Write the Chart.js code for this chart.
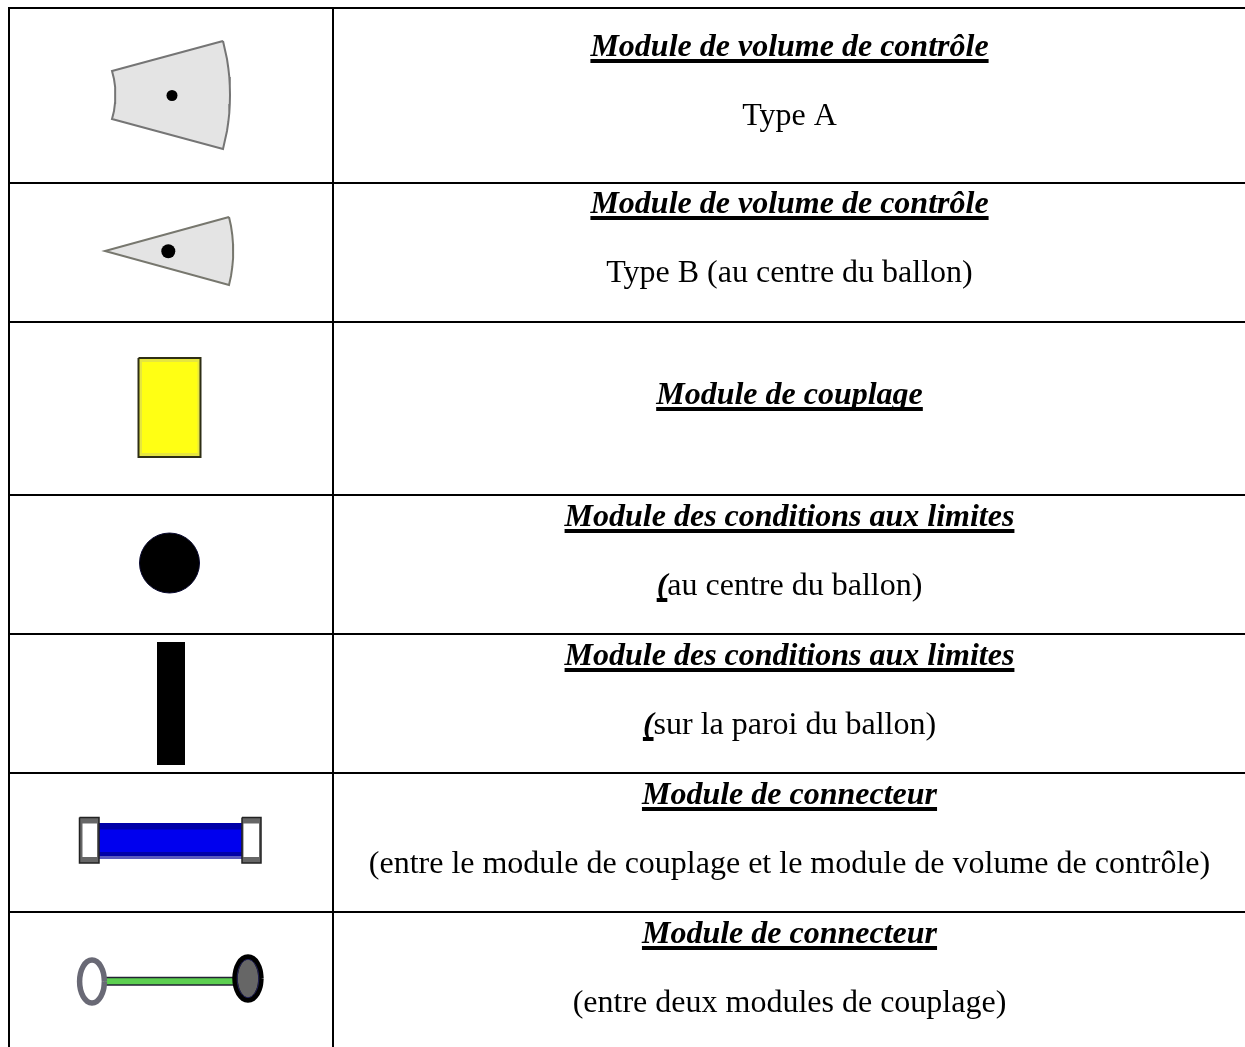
<!DOCTYPE html>
<html lang="fr"><head><meta charset="utf-8">
<style>html,body{margin:0;padding:0;background:#fff}canvas{display:block}</style>
<script src="https://cdn.jsdelivr.net/npm/chart.js@4"></script>
</head><body><canvas id="c" width="1245" height="1047"></canvas>
<script>
// Table text
const headings = ["Module de volume de contrôle","Module de volume de contrôle","Module de couplage","Module des conditions aux limites","Module des conditions aux limites","Module de connecteur","Module de connecteur"];
const headingBaselines = [56,213,404,526,665,804,943];
const bodyLeads = ["","","","(","(","",""];
const bodyTexts = ["Type A","Type B (au centre du ballon)","","au centre du ballon)","sur la paroi du ballon)","(entre le module de couplage et le module de volume de contrôle)","(entre deux modules de couplage)"];
const bodyBaselines = [125,282,0,595,734,873,1012];
const textCenter = 789.5;
// Table rules
const ruleRows = [8,183,322,495,634,773,912];
const ruleColumns = [9,333];
// Symbols
const wedgeA = [[223,41],[225,50],[227,59],[228.3,68],[229.3,77],[229.8,86],[230,95],[229.8,104],[229.3,113],[228.3,122],[227,131],[225,140],[223,149],[112,119],[114,111],[115,103],[115.3,95],[115,87],[114,79],[112,71],[223,41]];
const wedgeB = [[229,217],[231,226],[232.3,235],[233,244],[233.2,251],[233,258],[232.3,267],[231,276],[229,285],[105,251],[229,217]];
const wedgeADot = [[172,95.5]];
const wedgeBDot = [[168.3,251.3]];
const yellowOuter = [[138.5,358],[200.5,358],[200.5,457],[138.5,457],[138.5,358]];
const yellowInner = [[142,362],[197.5,362],[197.5,453],[142,453],[142,362]];
const limitDisc = [[169.5,563]];
const limitBar = [[157,642],[185,642],[185,765],[157,765],[157,642]];
const blueOuter = [[97,823],[243,823],[243,856],[97,856],[97,823]];
const blueInner = [[98,829.5],[241.5,829.5],[241.5,852],[98,852],[98,829.5]];
const blueLip = [[97,856],[243,856],[243,859],[97,859],[97,856]];
const capLeft = [[79.5,817.5],[99,817.5],[99,863],[79.5,863],[79.5,817.5]];
const capLeftHole = [[82.5,823.5],[97,823.5],[97,857],[82.5,857],[82.5,823.5]];
const capRight = [[242,817.5],[261,817.5],[261,863],[242,863],[242,817.5]];
const capRightHole = [[243.5,823.5],[259,823.5],[259,857],[243.5,857],[243.5,823.5]];
const greenRod = [[104,977.5],[238,977.5],[238,985],[104,985],[104,977.5]];
const ringLeft = [[104.4,981.5],[103.5,989.7],[100.8,996.7],[96.7,1001.4],[92,1003],[87.3,1001.4],[83.2,996.7],[80.5,989.7],[79.6,981.5],[80.5,973.3],[83.2,966.3],[87.3,961.6],[92,960],[96.7,961.6],[100.8,966.3],[103.5,973.3],[104.4,981.5]];
const ringRight = [[261,978.5],[260,986.7],[257.2,993.7],[253,998.4],[248,1000],[243,998.4],[238.8,993.7],[236,986.7],[235,978.5],[236,970.3],[238.8,963.3],[243,958.6],[248,957],[253,958.6],[257.2,963.3],[260,970.3],[261,978.5]];
const ringRightEdge = [[258.8,978.5],[258,985.8],[255.6,991.9],[252.1,996.1],[248,997.5],[243.9,996.1],[240.4,991.9],[238,985.8],[237.2,978.5],[238,971.2],[240.4,965.1],[243.9,960.9],[248,959.5],[252.1,960.9],[255.6,965.1],[258,971.2],[258.8,978.5]];

const pts = a => a.map(([x,y]) => ({x,y}));
const shape = (a,fill,stroke,w,tension=0) => ({data:pts(a),fill:fill?'shape':false,backgroundColor:fill||'transparent',borderColor:stroke||'transparent',borderWidth:stroke?w:0,tension,pointRadius:0,borderJoinStyle:'miter',borderCapStyle:'butt'});
const dot = (a,r,c,edge) => ({data:pts(a),showLine:false,pointRadius:r,pointBackgroundColor:c,pointBorderColor:edge||c,pointBorderWidth:edge?1:0});
const rule = a => shape(a,null,'#000',2);

const datasets = [
  ...ruleRows.map(y => rule([[8,y],[1245,y]])),
  ...ruleColumns.map(x => rule([[x,7],[x,1047]])),
  shape(wedgeA,'#e4e4e4','#757575',2),
  dot(wedgeADot,5.5,'#000'),
  shape(wedgeB,'#e4e4e4','#77776e',2),
  dot(wedgeBDot,7,'#000'),
  shape(yellowOuter,'#e6e640','#2e2e14',2),
  shape(yellowInner,'#ffff14'),
  dot(limitDisc,30,'#000','#0a0a30'),
  shape(limitBar,'#000'),
  shape(blueLip,'#5a5ac0'),
  shape(blueOuter,'#0000a8'),
  shape(blueInner,'#0000ee'),
  shape(capLeft,'#666','#222',1.5),
  shape(capLeftHole,'#fff'),
  shape(capRight,'#666','#222',1.5),
  shape(capRightHole,'#fff'),
  shape(greenRod,'#5ccf50','#223',1.4),
  shape(ringLeft,'#fff','#696975',5.5,0.4),
  shape(ringRight,'#666','#000',5.5,0.4),
  shape(ringRightEdge,null,'#2a2a70',0.8,0.4),
];
datasets.forEach((d,i) => d.order = -i);

const tableText = {
  id:'tableText',
  afterDatasetsDraw(chart){
    const {ctx,scales:{x,y}} = chart;
    const HEAD='italic bold 32px "Liberation Serif"', BODY='32px "Liberation Serif"';
    ctx.save();
    ctx.fillStyle='#000'; ctx.textBaseline='alphabetic'; ctx.textAlign='left';
    const cx=x.getPixelForValue(textCenter);
    headings.forEach((t,i)=>{
      const b=y.getPixelForValue(headingBaselines[i]);
      ctx.font=HEAD; const w=ctx.measureText(t).width, l=cx-w/2;
      ctx.fillText(t,l,b); ctx.fillRect(l,b+3,w,4);
      if(!bodyTexts[i]) return;
      const bb=y.getPixelForValue(bodyBaselines[i]);
      const lead=bodyLeads[i]; const lw=lead?ctx.measureText(lead).width:0;
      ctx.font=BODY; const bw=ctx.measureText(bodyTexts[i]).width; const s=cx-(lw+bw)/2;
      if(lead){ctx.font=HEAD;ctx.fillText(lead,s,bb);ctx.fillRect(s,bb+3,lw,4);ctx.font=BODY;}
      ctx.fillText(bodyTexts[i],s+lw,bb);
    });
    ctx.restore();
  }
};

new Chart(document.getElementById('c'),{
  type:'line',
  data:{datasets},
  options:{
    responsive:false,animation:false,devicePixelRatio:1,
    layout:{padding:0,autoPadding:false},
    events:[],
    clip:false,
    plugins:{legend:{display:false},tooltip:{enabled:false},title:{display:false}},
    scales:{
      x:{type:'linear',min:0,max:1245,display:false},
      y:{type:'linear',min:0,max:1047,reverse:true,display:false}
    }
  },
  plugins:[tableText]
});
</script></body></html>
